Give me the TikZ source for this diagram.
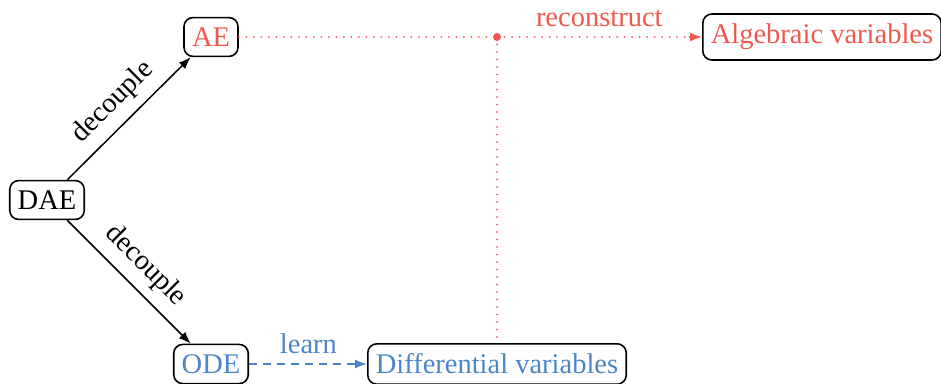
\documentclass[tikz,border=0pt]{standalone}
\usepackage{fontspec}
\setmainfont{Liberation Serif}
\usetikzlibrary{arrows.meta}
\definecolor{recred}{RGB}{239,88,78}
\definecolor{learnblue}{RGB}{76,134,200}
\tikzset{
  x=1pt, y=-1pt,
  every node/.style={font=\fontsize{28.5}{34}\selectfont},
  box/.style={draw=black, line width=1.6pt, rounded corners=9pt,
              inner xsep=8pt, inner ysep=10pt},
  tip/.style={-{Latex[length=12pt,width=9pt]}},
  flow/.style={line width=1.5pt, tip},
  recon/.style={recred, line width=2pt, dash pattern=on 0pt off 7.5pt, line cap=round},
  learnline/.style={learnblue, line width=1.5pt, dash pattern=on 8pt off 6pt},
  lbl/.style={inner sep=9.5pt}
}
\begin{document}
\begin{tikzpicture}
\useasboundingbox (0,0) rectangle (941,383);
% nodes
\node[box] (dae) at (47,200) {DAE};
\node[box, text=recred] (ae) at (211,37) {AE};
\node[box, text=learnblue] (ode) at (211,364) {ODE};
\node[box, text=recred] (alg) at (822,37) {Algebraic variables};
\node[box, text=learnblue] (diff) at (497,364) {Differential variables};
\coordinate (j) at (497,37);
% decoupling
\draw[flow] (dae) -- node[lbl, above, sloped] {decouple} (ae);
\draw[flow] (dae) -- node[lbl, above, sloped] {decouple} (ode);
% learning the differential part
\draw[learnline] (ode) -- node[lbl, above, text=learnblue, pos=0.54] {learn} ([xshift=-8pt]diff.west);
\draw[tip, learnblue, line width=1.5pt] ([xshift=-13pt]diff.west) -- (diff.west);
% reconstruction of the algebraic part
\draw[recon] (ae.east) -- (j);
\draw[recon] (j) -- (diff.north);
\draw[recon] (j) -- node[lbl, above, text=recred, pos=0.53] {reconstruct} ([xshift=-12pt]alg.west);
\draw[tip, recred, line width=1.5pt] ([xshift=-13pt]alg.west) -- (alg.west);
\fill[recred] (j) circle (4pt);
\end{tikzpicture}
\end{document}
